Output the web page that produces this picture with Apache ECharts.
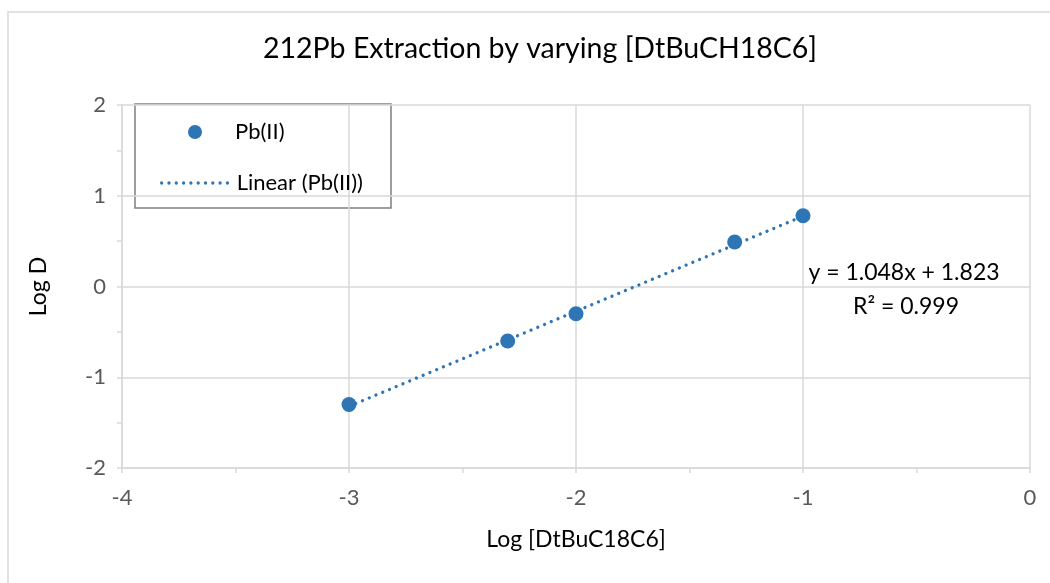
<!DOCTYPE html>
<html>
<head>
<meta charset="utf-8">
<script src="https://cdn.jsdelivr.net/npm/echarts@6/dist/echarts.min.js"></script>
<style>
  html, body { margin: 0; padding: 0; background: #fff; }
  #chart { width: 1050px; height: 583px; }
</style>
</head>
<body>
<div id="chart"></div>
<script>
// Measured points: log of crown ether concentration vs log of distribution ratio
const logConc = [-3, -2.301, -2, -1.301, -1];
const logD = [-1.30, -0.60, -0.30, 0.49, 0.78];

// Least-squares fit reported for the series
const slope = 1.048;
const intercept = 1.823;
const rSquared = 0.999;

const xTicks = { min: -4, max: 0, interval: 1 };
const yTicks = { min: -2, max: 2, interval: 1 };

const titleText = '212Pb Extraction by varying [DtBuCH18C6]';
const xName = 'Log [DtBuC18C6]';
const yName = 'Log D';
const seriesName = 'Pb(II)';
const trendName = 'Linear (Pb(II))';

const points = logConc.map((x, i) => [x, logD[i]]);
const xFirst = Math.min(...logConc);
const xLast = Math.max(...logConc);
const trend = [xFirst, xLast].map(x => [x, slope * x + intercept]);

const FONT = 'Lato, "Open Sans", sans-serif';
const BLUE = '#2e75b6';
const GRID = '#d9d9d9';
const DOTS = [0.01, 7.3];

const chart = echarts.init(document.getElementById('chart'), null, { renderer: 'canvas' });

const axisCommon = {
  type: 'value',
  nameLocation: 'middle',
  nameTextStyle: { fontFamily: FONT, fontSize: 23, color: '#000' },
  axisLine: { show: true, onZero: false, lineStyle: { color: GRID, width: 1.5 } },
  axisTick: { show: true, inside: false, length: 5, lineStyle: { color: GRID, width: 1.5 } },
  minorTick: { show: true, splitNumber: 2, length: 5, lineStyle: { color: GRID, width: 1.5 } },
  splitLine: { show: true, lineStyle: { color: GRID, width: 1.5 } },
  minorSplitLine: { show: false },
  axisLabel: { fontFamily: FONT, fontSize: 22, color: '#595959' }
};

const legendText = { fontFamily: FONT, fontSize: 22, color: '#000', lineHeight: 14 };

chart.setOption({
  animation: false,
  backgroundColor: '#fff',
  title: {
    text: titleText,
    left: 258,
    top: 29,
    textStyle: { fontFamily: FONT, fontSize: 28.5, fontWeight: 'normal', color: '#000' }
  },
  grid: { left: 122, right: 20, top: 105, bottom: 115, containLabel: false },
  xAxis: Object.assign({}, axisCommon, {
    min: xTicks.min, max: xTicks.max, interval: xTicks.interval,
    name: xName, nameGap: 60,
    axisLabel: Object.assign({}, axisCommon.axisLabel, { margin: 19 })
  }),
  yAxis: Object.assign({}, axisCommon, {
    min: yTicks.min, max: yTicks.max, interval: yTicks.interval,
    name: yName, nameGap: 72, nameRotate: 90,
    axisLabel: Object.assign({}, axisCommon.axisLabel, { margin: 16 })
  }),
  legend: [
    {
      left: 188,
      top: 121,
      padding: 0,
      itemWidth: 14,
      itemHeight: 14,
      icon: 'circle',
      textStyle: Object.assign({}, legendText, { padding: [0, 0, 0, 28] }),
      data: [seriesName]
    },
    {
      left: 160,
      top: 172,
      padding: 0,
      itemWidth: 70,
      itemHeight: 14,
      textStyle: legendText,
      lineStyle: { width: 3.3, type: DOTS, cap: 'round' },
      data: [{ name: trendName, itemStyle: { opacity: 0 } }]
    }
  ],
  series: [
    {
      name: trendName,
      type: 'line',
      data: trend,
      symbol: 'none',
      showSymbol: false,
      z: 2,
      lineStyle: { color: BLUE, width: 3.3, type: DOTS, cap: 'round' },
      itemStyle: { color: BLUE }
    },
    {
      name: seriesName,
      type: 'scatter',
      data: points,
      symbol: 'circle',
      symbolSize: 15,
      z: 3,
      itemStyle: { color: BLUE, opacity: 1 }
    }
  ],
  graphic: [
    {
      type: 'rect',
      silent: true,
      shape: { x: 8, y: 12, width: 1200, height: 800 },
      style: { fill: null, stroke: GRID, lineWidth: 1.5 },
      z: -1
    },
    {
      type: 'rect',
      silent: true,
      shape: { x: 135, y: 104, width: 256, height: 104 },
      style: { fill: '#fff', stroke: '#7f7f7f', lineWidth: 1.5 },
      z: 0
    },
    {
      type: 'text',
      silent: true,
      x: 904,
      y: 273,
      style: {
        text: 'y = ' + slope.toFixed(3) + 'x + ' + intercept.toFixed(3),
        fontFamily: FONT, fontSize: 23, fill: '#000', align: 'center', verticalAlign: 'middle'
      }
    },
    {
      type: 'text',
      silent: true,
      x: 906,
      y: 307,
      style: {
        text: 'R² = ' + rSquared.toFixed(3),
        fontFamily: FONT, fontSize: 23, fill: '#000', align: 'center', verticalAlign: 'middle'
      }
    }
  ]
});
</script>
</body>
</html>
